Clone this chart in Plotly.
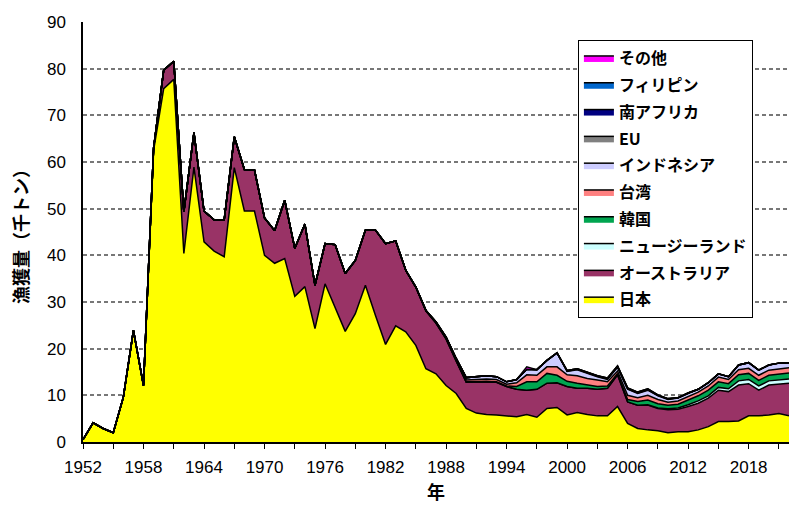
import plotly.graph_objects as go

# catch by fleet, thousand tonnes, 1952-2022
years = list(range(1952, 2023))

japan = [
    0.5, 4.1, 2.9, 2.0, 9.6, 23.9, 12.1, 62.5, 75.7, 77.7,
    40.4, 58.9, 42.9, 40.9, 39.7, 58.8, 49.5, 49.5, 40.0, 38.3,
    39.3, 31.2, 33.3, 24.3, 33.9, 28.9, 23.7, 27.5, 33.6, 27.1,
    20.9, 24.9, 23.6, 20.7, 15.7, 14.6, 12.1, 10.4, 7.2, 6.2,
    5.9, 5.8, 5.6, 5.4, 5.9, 5.3, 7.2, 7.4, 5.8, 6.3,
    5.9, 5.6, 5.6, 7.6, 4.0, 2.9, 2.6, 2.4, 2.0, 2.2,
    2.2, 2.6, 3.3, 4.4, 4.4, 4.5, 5.6, 5.6, 5.8, 6.1,
    5.6,
]
australia = [
    0, 0, 0, 0, 0, 0, 0, 0.5, 4.0, 3.9,
    8.9, 7.4, 6.6, 6.7, 7.9, 6.6, 8.9, 8.8, 8.0, 7.0,
    12.5, 10.3, 13.4, 9.3, 8.6, 13.4, 12.4, 11.4, 11.8, 18.3,
    21.6, 18.2, 13.2, 12.5, 12.4, 10.9, 10.0, 6.9, 5.6, 6.7,
    7.0, 7.0, 6.3, 5.9, 5.2, 6.0, 5.4, 5.3, 6.1, 5.2,
    5.6, 5.7, 5.9, 6.8, 4.6, 5.0, 5.3, 4.8, 4.9, 4.8,
    5.4, 5.7, 6.1, 6.7, 6.4, 7.7, 6.9, 5.5, 6.4, 6.3,
    7.0,
]
new_zealand = [0] * 56 + [
    0.1, 0.1, 0.2, 0.3, 0.4, 0.5, 0.5, 0.6, 0.6, 0.9,
    0.9, 0.9, 0.9, 0.9, 0.9,
]
korea = [0] * 38 + [
    0.1, 0.1, 0.1, 0.1, 0.1, 0.6, 1.8, 1.6, 2.1, 1.6,
    1.1, 1.1, 0.7, 0.6, 0.5, 0.3, 0.5, 0.8, 1.0, 0.9,
    0.8, 0.8, 1.0, 1.1, 1.2, 1.2, 1.1, 1.3, 1.3, 1.2,
    1.2, 1.3, 1.3,
]
taiwan = [0] * 34 + [
    0.1, 0.2, 0.3, 0.4, 0.4, 0.4, 0.5, 0.5, 0.4, 0.8,
    1.5, 1.4, 1.4, 1.8, 1.4, 1.6, 1.4, 1.4, 0.9, 0.5,
    0.9, 0.8, 1.0, 0.9, 0.6, 0.7, 0.8, 0.8, 0.9, 1.0,
    0.9, 1.1, 1.1, 1.1, 1.1, 1.1, 1.1,
]
indonesia = [0] * 36 + [
    0.1, 0.2, 0.5, 0.6, 0.7, 0.6, 0.5, 0.7, 1.2, 1.2,
    1.4, 3.0, 0.7, 1.3, 1.1, 0.7, 0.5, 0.8, 1.3, 0.9,
    1.1, 0.8, 0.6, 0.6, 0.6, 0.6, 0.7, 0.7, 0.6, 1.0,
    1.2, 1.1, 1.1, 1.2, 1.1,
]
eu = [0] * 48 + [0.1] * 13 + [0] * 10
south_africa = [0] * 48 + [0.1] * 9 + [0] * 14
philippines = [0] * 52 + [0.1] * 7 + [0] * 12
others = [0] * 44 + [0.5] + [0] * 26

series = [
    ("日本", japan, "#FFFF00"),
    ("オーストラリア", australia, "#993366"),
    ("ニュージーランド", new_zealand, "#CCFFFF"),
    ("韓国", korea, "#00A550"),
    ("台湾", taiwan, "#FF8080"),
    ("インドネシア", indonesia, "#CCCCFF"),
    ("EU", eu, "#808080"),
    ("南アフリカ", south_africa, "#000080"),
    ("フィリピン", philippines, "#0066CC"),
    ("その他", others, "#FF00FF"),
]

fig = go.Figure()
for i, (name, vals, color) in enumerate(series):
    fig.add_trace(go.Scatter(
        x=years, y=vals, name=name, legendgroup=name,
        legendrank=100 - i,  # その他 on top of the legend, like the stack
        mode="lines", stackgroup="catch",
        line=dict(color="black", width=1.5),
        fillcolor=color,
    ))

tick_font = dict(family="Liberation Sans Narrow, Liberation Sans, Arial", size=17, color="black")

fig.update_layout(
    width=789, height=507,
    margin=dict(l=83, r=0, t=22, b=65),
    plot_bgcolor="white", paper_bgcolor="white",
    font=dict(family="Noto Sans CJK JP", color="black"),
    showlegend=True,
    legend=dict(
        x=0.701, y=0.957, xanchor="left", yanchor="top",
        traceorder="grouped", tracegroupgap=3,
        bordercolor="black", borderwidth=1, bgcolor="white",
        font=dict(family="Noto Sans CJK JP", size=16, weight="bold"),
        itemwidth=30,
    ),
    xaxis=dict(
        range=[1952, 2022], tickmode="linear", tick0=1952, dtick=6,
        ticks="outside", ticklen=5, tickcolor="black", ticklabelstandoff=4,
        minor=dict(tick0=1952, dtick=3, ticks="outside", ticklen=5, tickcolor="black"),
        showline=True, linecolor="black", linewidth=1.5,
        showgrid=False, zeroline=False, tickfont=tick_font,
        title=dict(text="年", font=dict(size=18, weight="bold"), standoff=10),
    ),
    yaxis=dict(
        range=[0, 90], dtick=10, ticklabelstandoff=12,
        showline=True, linecolor="black", linewidth=1.5,
        showgrid=True, gridcolor="#777777", griddash="4px,3px", gridwidth=1.5,
        zeroline=False, tickfont=tick_font,
        title=dict(text="漁獲量（千トン）", font=dict(size=18, weight="bold"), standoff=14),
    ),
)

# the page body has an 8px margin by default; drop it so the figure sits at 0,0
fig.write_html(
    "out.html",
    config={"displayModeBar": False},
    post_script="document.body.style.margin='0';",
)
